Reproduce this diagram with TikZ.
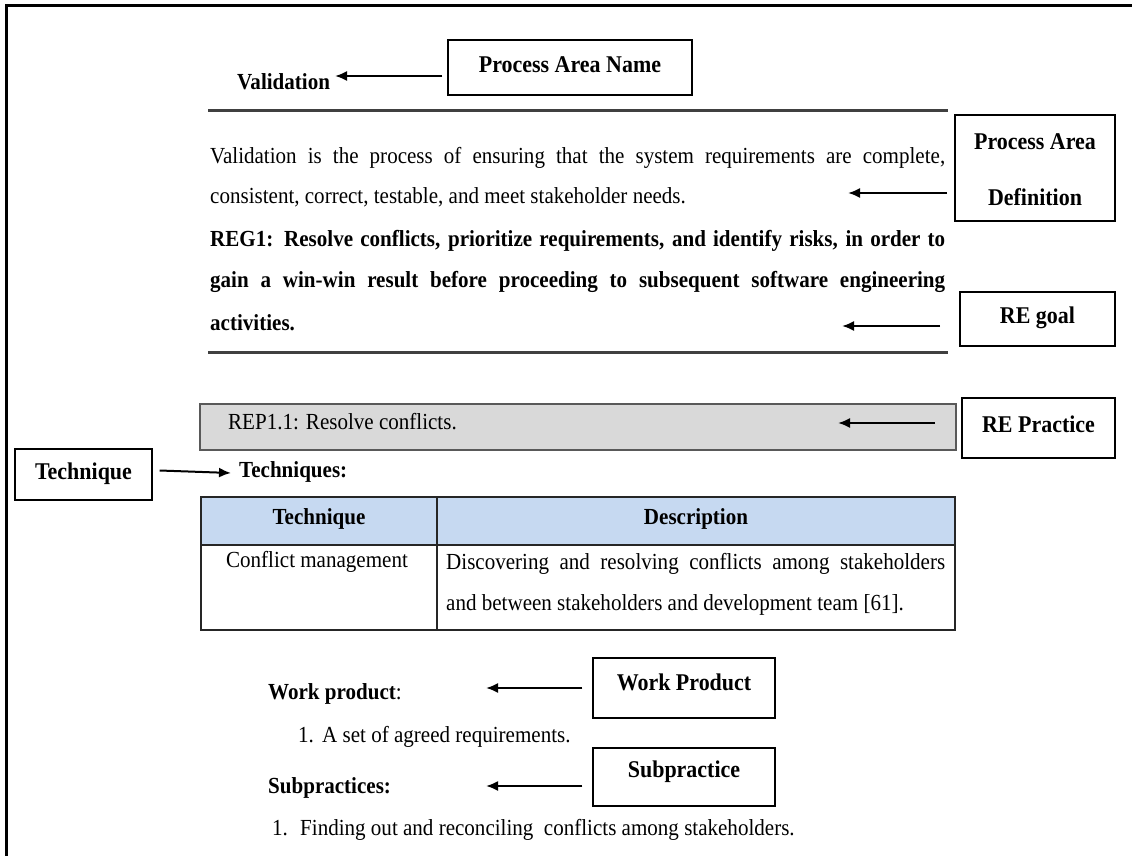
\documentclass[tikz,border=0pt]{standalone}
\usepackage{fontspec}
\setmainfont[FakeStretch=0.915]{Liberation Serif}
\usetikzlibrary{arrows.meta}
\definecolor{hdrblue}{HTML}{C6D9F1}
\definecolor{repgray}{HTML}{D9D9D9}
\begin{document}
\begin{tikzpicture}[x=1pt,y=-1pt,
  body/.style={anchor=base west, inner sep=0pt, font=\fontsize{23}{27}\selectfont},
  bbody/.style={anchor=base west, inner sep=0pt, font=\fontsize{23}{27}\selectfont\bfseries},
  lbox/.style={draw=black, line width=1.3pt, fill=white, inner sep=0pt},
  lbl/.style={inner sep=0pt, font=\fontsize{24}{28}\selectfont\bfseries},
  arr/.style={line width=2pt, -{Latex[length=12pt,width=10pt]}},
  rulestyle/.style={line width=3pt, draw=black!75},
  tline/.style={line width=1.2pt, draw=black!85},
]
\useasboundingbox (0,0) rectangle (1132,856);
\fill[white] (0,0) rectangle (1132,856);
% outer frame
\draw[line width=3pt] (1132,6) -- (6,6) -- (6,856);

% Process area name
\node[bbody] (val) at (237,90) {Validation};
\node[lbox, minimum width=244pt, minimum height=55pt] (pan) at (570,67.5) {};
\node[lbl] (pant) at (570,65) {Process Area Name};
\coordinate (a1) at (335,76);
\draw[arr] ([xshift=-5pt]pan.west |- a1) -- (a1);

\draw[rulestyle] (208,110.7) -- (948,110.7);

% Definition
\node[body] (d1) at (210,164) {\makebox[735pt][s]{Validation is the process of ensuring that the system requirements are complete,}};
\node[body] (d2) at (210,203) {consistent, correct, testable, and meet stakeholder needs.};
\node[lbox, minimum width=160pt, minimum height=106pt] (pad) at (1035,168) {};
\node[lbl] (padt1) at (1035,142) {Process Area};
\node[lbl] (padt2) at (1035,197) {Definition};
\coordinate (a2s) at (947,193);
\coordinate (a2e) at (848,193);
\draw[arr] (a2s) -- (a2e);

% Goal
\node[bbody] (g1) at (210,246) {\makebox[735pt][s]{REG1: Resolve conflicts, prioritize requirements, and identify risks, in order to}};
\node[bbody] (g2) at (210,287) {\makebox[735pt][s]{gain a win-win result before proceeding to subsequent software engineering}};
\node[bbody] (g3) at (210,330) {activities.};
\node[lbox, minimum width=155pt, minimum height=54pt] (reg) at (1037.5,319) {};
\node[lbl] (regt) at (1037.5,318) {RE goal};
\coordinate (a3s) at (940,326);
\coordinate (a3e) at (842,326);
\draw[arr] (a3s) -- (a3e);

\draw[rulestyle] (208,352) -- (948,352);

% Practice
\node[draw=black!65, line width=2pt, fill=repgray, minimum width=756pt, minimum height=46pt, inner sep=0pt] (rep) at (578,427) {};
\node[body] (rept) at (228,429) {REP1.1: Resolve conflicts.};
\node[lbox, minimum width=153pt, minimum height=60pt] (rpb) at (1038.5,428) {};
\node[lbl] (rpbt) at (1038.5,424) {RE Practice};
\coordinate (a4s) at (935,423);
\coordinate (a4e) at (838,423);
\draw[arr] (a4s) -- (a4e);

% Technique
\node[lbox, minimum width=137pt, minimum height=51pt] (tb) at (83.5,474.5) {};
\node[lbl] (tbt) at (83.5,474) {Technique};
\node[bbody] (tech) at (239,477) {Techniques:};
\coordinate (a5) at (231,473);
\draw[arr] ([xshift=7pt,yshift=4pt]tb.east) -- (a5);

% Table
\fill[hdrblue] (201,497) rectangle (955,545);
\draw[tline] (201,497) rectangle (955,630);
\draw[tline] (201,545) -- (955,545);
\draw[tline] (437,497) -- (437,630);
\node[bbody, anchor=base] (th1) at (319,524) {Technique};
\node[bbody, anchor=base] (th2) at (696,524) {Description};
\node[body, anchor=base] (tc1) at (317,567) {Conflict management};
\node[body] (tc2a) at (446,569) {\makebox[499pt][s]{Discovering and resolving conflicts among stakeholders}};
\node[body] (tc2b) at (446,610) {and between stakeholders and development team [61].};

% Work product
\node[body] (wp) at (268,699) {\textbf{Work product}:};
\node[lbox, minimum width=182pt, minimum height=60pt] (wpb) at (684,688) {};
\node[lbl] (wpbt) at (684,682) {Work Product};
\coordinate (a6e) at (486,688);
\draw[arr] (wpb.west |- a6e) ++(-10,0) -- (a6e);
\node[body] (wp1n) at (298,742) {1.};
\node[body] (wp1) at (322,742) {A set of agreed requirements.};

% Subpractices
\node[bbody] (sp) at (268,793) {Subpractices:};
\node[lbox, minimum width=182pt, minimum height=58pt] (spb) at (684,777) {};
\node[lbl] (spbt) at (684,772) {Subpractice};
\coordinate (a7e) at (486,786);
\draw[arr] (spb.west |- a7e) ++(-10,0) -- (a7e);
\node[body] (sp1n) at (272,835) {1.};
\node[body] (sp1) at (300,835) {Finding out and reconciling\ \ conflicts among stakeholders.};
\end{tikzpicture}
\end{document}
